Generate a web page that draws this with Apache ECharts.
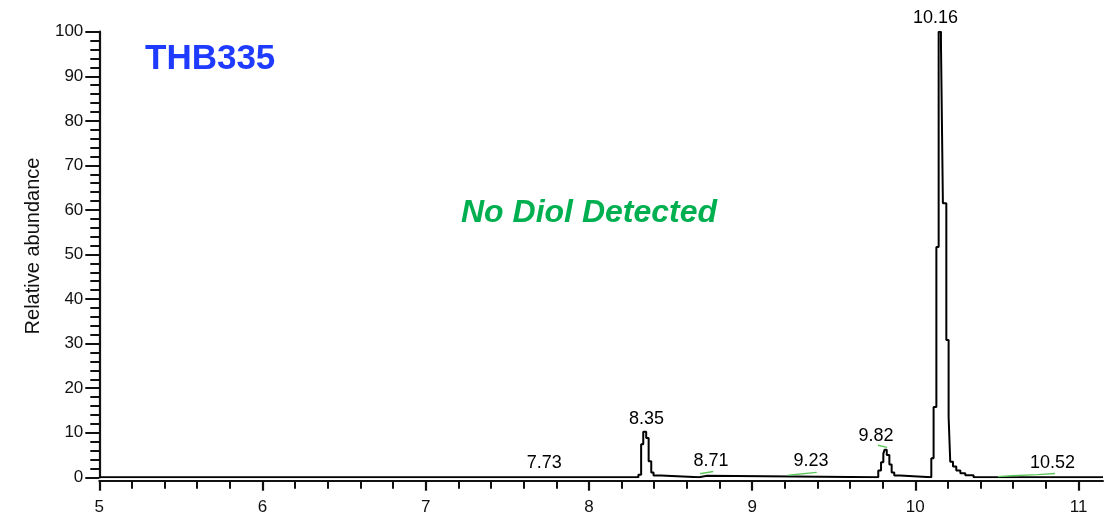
<!DOCTYPE html>
<html>
<head>
<meta charset="utf-8">
<style>
  html, body { margin: 0; padding: 0; background: #fff; }
  #chart { width: 1111px; height: 514px; }
</style>
<script src="https://cdn.jsdelivr.net/npm/echarts@6.0.0/dist/echarts.min.js"></script>
</head>
<body>
<div id="chart"></div>
<script>
// chromatogram trace, retention time (min) -> relative abundance, drawn as steps
const traceTime = [5.0, 8.303, 8.320, 8.333, 8.351, 8.366, 8.382, 8.396, 8.442, 8.675, 8.724,
  9.773, 9.790, 9.804, 9.812, 9.825, 9.841, 9.855, 9.871, 9.906,
  10.098, 10.112, 10.129, 10.143, 10.157, 10.169, 10.190, 10.204, 10.214, 10.231, 10.251, 10.276, 10.306, 10.357, 11.15];
const traceAbundance = [0, 0.6, 7.4, 10.2, 8.8, 3.6, 1.1, 0.4, 0, 0.35, 0,
  1.5, 3.4, 5.3, 6.2, 5.0, 2.9, 1.1, 0.4, 0,
  4.3, 15.8, 51.7, 100, 97.8, 61.5, 30.8, 13.6, 3.5, 2.4, 1.5, 0.9, 0.45, 0, 0];

// integration baselines (green)
const baselineSegments = [
  [[8.681, 0.8], [8.762, 1.3]],
  [[9.222, 0.45], [9.396, 1.1]],
  [[9.771, 7.2], [9.827, 6.7]],
  [[10.507, 0.15], [10.59, 0.35], [10.75, 0.6], [10.856, 0.85]],
];

// peak annotations
const peakLabels = ['7.73', '8.35', '8.71', '9.23', '9.82', '10.16', '10.52'];
const labelTime = [7.727, 8.353, 8.748, 9.361, 9.759, 10.124, 10.841];
const labelLevel = [3.3, 13.1, 3.7, 3.7, 9.3, 103.1, 3.2];

const xTicks = [5, 6, 7, 8, 9, 10, 11];
const xMinorTicks = [5.2, 5.4, 5.6, 5.8, 6.2, 6.4, 6.6, 6.8, 7.2, 7.4, 7.6, 7.8,
  8.2, 8.4, 8.6, 8.8, 9.2, 9.4, 9.6, 9.8, 10.2, 10.4, 10.6, 10.8];

const font = 'Arial, "Liberation Sans", sans-serif';
const ink = '#111';

const chart = echarts.init(document.getElementById('chart'));

const baseX = {
  type: 'value',
  min: 5,
  max: 11.15,
  position: 'bottom',
  offset: 3.4,
  splitLine: { show: false },
};

chart.setOption({
  animation: false,
  title: [
    {
      text: 'THB335', left: 145, top: 42, padding: 0,
      textStyle: { fontSize: 35, fontWeight: 'bold', color: '#1f3bff', fontFamily: font },
    },
    {
      text: 'No Diol Detected', left: 461, top: 197, padding: 0,
      textStyle: { fontSize: 32, fontWeight: 'bold', fontStyle: 'italic', color: '#00b050', fontFamily: font },
    },
  ],
  grid: { left: 99.3, right: 8, top: 31.7, bottom: 36.7, outerBoundsMode: 'none' },
  xAxis: [
    Object.assign({}, baseX, {
      axisLine: { onZero: false, lineStyle: { color: ink, width: 2 } },
      axisTick: { customValues: xTicks, length: 10, lineStyle: { color: ink, width: 2.2 } },
      axisLabel: { customValues: xTicks, margin: 18, fontSize: 17, color: ink, fontFamily: font },
    }),
    Object.assign({}, baseX, {
      axisLine: { show: false, onZero: false },
      axisTick: { customValues: xMinorTicks, length: 8, lineStyle: { color: ink, width: 2 } },
      axisLabel: { show: false },
    }),
  ],
  yAxis: {
    type: 'value',
    min: 0,
    max: 100,
    interval: 10,
    name: 'Relative abundance',
    nameLocation: 'middle',
    nameGap: 56,
    nameTextStyle: { fontSize: 20, color: ink, fontFamily: font, padding: [0, 0, 0, 17] },
    axisLine: { show: true, onZero: false, lineStyle: { color: ink, width: 2.2 } },
    axisTick: { show: true, length: 14, lineStyle: { color: ink, width: 2 } },
    minorTick: { show: true, splitNumber: 5, length: 9, lineStyle: { color: ink, width: 2 } },
    axisLabel: { margin: 16, fontSize: 17, color: ink, fontFamily: font },
    splitLine: { show: false },
  },
  series: [
    {
      type: 'line',
      step: 'end',
      symbol: 'none',
      data: traceTime.map((t, i) => [t, traceAbundance[i]]),
      lineStyle: { color: '#000', width: 2 },
    },
    ...baselineSegments.map((seg) => ({
      type: 'line',
      symbol: 'none',
      data: seg,
      lineStyle: { color: '#5cc85c', width: 1.4 },
      z: 3,
    })),
    {
      type: 'scatter',
      symbolSize: 0,
      clip: false,
      silent: true,
      itemStyle: { opacity: 1 },
      data: labelTime.map((t, i) => ({ value: [t, labelLevel[i]], name: peakLabels[i] })),
      label: {
        show: true,
        position: 'inside',
        formatter: (p) => p.name,
        fontSize: 18,
        color: '#000',
        opacity: 1,
        fontFamily: font,
      },
    },
  ],
});

window.addEventListener('resize', () => chart.resize());
</script>
</body>
</html>
